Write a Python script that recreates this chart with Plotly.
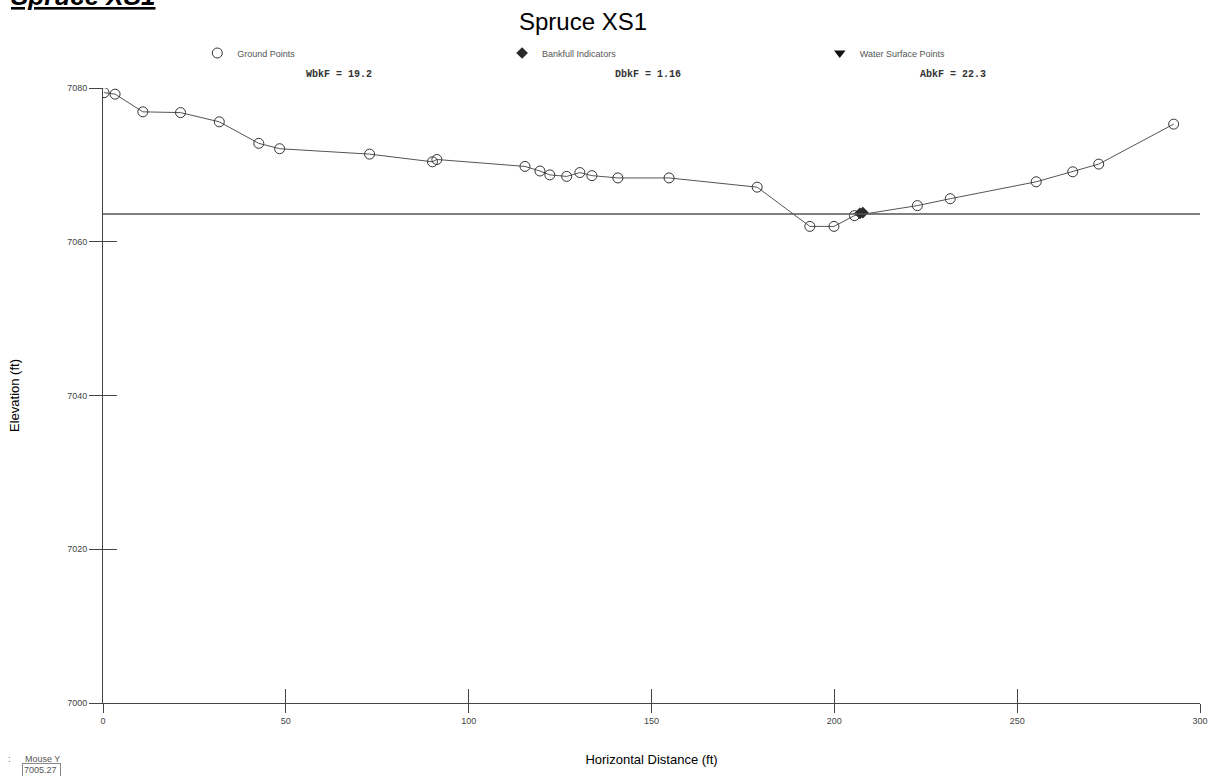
import plotly.graph_objects as go

# Ground points (station ft, elevation ft)
ground_x = [0.3, 3.3, 10.9, 21.2, 31.8, 42.6, 48.3, 72.9, 90.1, 91.3, 115.4, 119.5,
            122.2, 126.8, 130.4, 133.7, 140.8, 154.8, 178.9, 193.3, 199.9, 205.5,
            222.7, 231.7, 255.2, 265.2, 272.3, 292.8]
ground_y = [7079.4, 7079.2, 7076.9, 7076.8, 7075.6, 7072.8, 7072.1, 7071.4, 7070.4,
            7070.7, 7069.8, 7069.2, 7068.7, 7068.5, 7069.0, 7068.6, 7068.3, 7068.3,
            7067.1, 7062.0, 7062.0, 7063.4, 7064.7, 7065.6, 7067.8, 7069.1, 7070.1,
            7075.3]

# Bankfull indicators
bankfull_x = [207.0, 207.8]
bankfull_y = [7063.7, 7063.8]

# Water surface points (none shown)
water_x = [None]
water_y = [None]

# Bankfull elevation line
bkf_line_x = [0, 300]
bkf_line_y = [7063.6, 7063.6]

x_ticks = [0, 50, 100, 150, 200, 250, 300]
y_ticks = [7000, 7020, 7040, 7060, 7080]

stats_labels = ["WbkF = 19.2", "DbkF = 1.16", "AbkF = 22.3"]
stats_pos = [0.215, 0.497, 0.775]

LINE = "#444444"
FONT = "Liberation Sans, Arial"
fig = go.Figure()

fig.add_trace(go.Scatter(
    x=bkf_line_x, y=bkf_line_y, mode="lines",
    line=dict(color="#555555", width=1.5), showlegend=False, hoverinfo="skip",
    xaxis="x2", yaxis="y2"))

# ground profile line
fig.add_trace(go.Scatter(
    x=ground_x, y=ground_y, mode="lines", showlegend=False, hoverinfo="skip",
    line=dict(color="#555555", width=1)))

fig.add_trace(go.Scatter(
    x=ground_x, y=ground_y, mode="markers", name="Ground Points",
    marker=dict(symbol="circle-open", size=10, color="#333333", line=dict(width=1)),
    legend="legend"))

fig.add_trace(go.Scatter(
    x=bankfull_x, y=bankfull_y, mode="markers", name="Bankfull Indicators",
    marker=dict(symbol="diamond", size=9, color="#2a2a2a"),
    legend="legend2"))

fig.add_trace(go.Scatter(
    x=water_x, y=water_y, mode="markers", name="Water Surface Points",
    marker=dict(symbol="triangle-down", size=10, color="#111111"),
    legend="legend3"))

annotations = []
for lab, px in zip(stats_labels, stats_pos):
    annotations.append(dict(
        text="<b>" + lab + "</b>", x=px, y=(703 - 74) / 615, xref="paper", yref="paper",
        showarrow=False, xanchor="center", yanchor="middle",
        font=dict(family="Liberation Mono, DejaVu Sans Mono, monospace", size=10, color="#333333")))

annotations.append(dict(
    text="<b><i><u>Spruce XS1</u></i></b>", x=(8 - 103) / 1105, y=(703 - 13) / 615,
    xref="paper", yref="paper",
    showarrow=False, xanchor="left", yanchor="bottom",
    font=dict(family=FONT, size=26, color="#000000")))

annotations.append(dict(
    text=":", x=(5 - 103) / 1105, y=(703 - 759) / 615, xref="paper", yref="paper",
    showarrow=False, xanchor="left", yanchor="middle",
    font=dict(family=FONT, size=9, color="#555555")))
annotations.append(dict(
    text="Mouse Y", x=(22 - 103) / 1105, y=(703 - 759) / 615, xref="paper", yref="paper",
    showarrow=False, xanchor="left", yanchor="middle",
    font=dict(family=FONT, size=9, color="#555555")))
annotations.append(dict(
    text="7005.27 ", x=(21 - 103) / 1105, y=(703 - 770) / 615, xref="paper", yref="paper",
    showarrow=False, xanchor="left", yanchor="middle", bordercolor="#888888", borderwidth=1,
    borderpad=1, bgcolor="white",
    font=dict(family=FONT, size=9, color="#555555")))

legend_common = dict(orientation="h", yanchor="middle", bgcolor="rgba(0,0,0,0)",
                     font=dict(family=FONT, size=9, color="#555555"),
                     itemwidth=30, xanchor="left")

fig.update_layout(
    width=1218, height=776,
    margin=dict(l=103, r=10, t=88, b=73),
    paper_bgcolor="white", plot_bgcolor="white",
    title=dict(text="Spruce XS1", x=583 / 1218, xref="container", xanchor="center",
               y=1 - 22 / 776, yref="container", yanchor="middle",
               font=dict(family=FONT, size=24, color="#000000")),
    xaxis=dict(range=[0, 300], tickvals=x_ticks, showgrid=False, zeroline=False,
               showline=True, linecolor=LINE, linewidth=1, ticks="outside", ticklen=9,
               tickcolor=LINE, tickfont=dict(family=FONT, size=9, color="#444444"),
               title=dict(text="Horizontal Distance (ft)", standoff=30,
                          font=dict(family=FONT, size=13, color="#000000"))),
    yaxis=dict(range=[7000, 7080], tickvals=y_ticks, showgrid=False, zeroline=False,
               showline=True, linecolor=LINE, linewidth=1, ticks="outside", ticklen=13,
               tickcolor=LINE, tickfont=dict(family=FONT, size=9, color="#444444"),
               title=dict(text="Elevation (ft)", standoff=44,
                          font=dict(family=FONT, size=13, color="#000000"))),
    xaxis2=dict(range=[0, 300], tickvals=x_ticks, overlaying="x", anchor="y2", side="bottom",
                showgrid=False, zeroline=False, showline=False, ticks="inside", ticklen=14,
                tickcolor=LINE, showticklabels=False),
    yaxis2=dict(range=[7000, 7080], tickvals=y_ticks, overlaying="y", anchor="x2", side="left",
                showgrid=False, zeroline=False, showline=False, ticks="inside", ticklen=14,
                tickcolor=LINE, showticklabels=False),
    legend=dict(x=(198 - 103) / 1105, y=(703 - 53) / 615, **legend_common),
    legend2=dict(x=(505 - 103) / 1105, y=(703 - 53) / 615, **legend_common),
    legend3=dict(x=(825 - 103) / 1105, y=(703 - 53) / 615, **legend_common),
    annotations=annotations,
)

fig.write_html("out.html")
